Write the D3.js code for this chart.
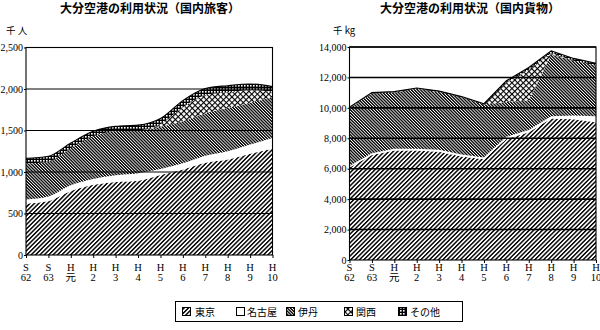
<!DOCTYPE html>
<html><head><meta charset="utf-8">
<script src="https://cdn.jsdelivr.net/npm/d3@7"></script>
<style>body{margin:0;background:#fff}svg{display:block}</style>
</head><body><svg id="c" width="600" height="330"></svg>
<script>
// ---------- data ----------
const categories = ["S62","S63","H元","H2","H3","H4","H5","H6","H7","H8","H9","H10"];
const catLine1 = ["S","S","H","H","H","H","H","H","H","H","H","H"];
const catLine2 = ["62","63","元","2","3","4","5","6","7","8","9","10"];
const seriesKeys = ["tokyo","nagoya","itami","kansai","other"];
const seriesNames = ["東京","名古屋","伊丹","関西","その他"];

// 国内旅客 (千人)
const paxTokyo  = [620, 650, 770, 845, 880, 895, 965, 1030, 1110, 1150, 1220, 1280];
const paxNagoya = [50, 55, 70, 70, 80, 90, 70, 75, 85, 100, 110, 130];
const paxItami  = [435, 420, 445, 515, 530, 515, 510, 505, 510, 520, 505, 495];
const paxKansai = [0, 0, 0, 0, 0, 0, 30, 170, 220, 190, 150, 60];
const paxOther  = [60, 65, 65, 60, 60, 65, 70, 80, 80, 80, 75, 65];
const paxTicks = [0, 500, 1000, 1500, 2000, 2500];
const paxTickLabels = ["0", "500", "1,000", "1,500", "2,000", "2,500"];

// 国内貨物 (千kg)
const cargoTokyo  = [6080, 6900, 7200, 7200, 7120, 6810, 6620, 7950, 8400, 9300, 9250, 9050];
const cargoNagoya = [100, 120, 120, 120, 120, 120, 120, 150, 150, 150, 250, 400];
const cargoItami  = [3820, 3930, 3695, 3930, 3810, 3760, 3480, 2280, 1950, 4050, 3600, 3330];
const cargoKansai = [0, 0, 0, 0, 0, 0, 0, 1300, 2000, 100, 0, 0];
const cargoOther  = [50, 50, 50, 50, 50, 50, 50, 100, 150, 150, 150, 150];
const cargoTicks = [0, 2000, 4000, 6000, 8000, 10000, 12000, 14000];
const cargoTickLabels = ["0", "2,000", "4,000", "6,000", "8,000", "10,000", "12,000", "14,000"];

const titles = ["大分空港の利用状況（国内旅客）", "大分空港の利用状況（国内貨物）"];
const units = ["千 人", "千 kg"];

// ---------- drawing ----------
const svg = d3.select("#c");
const serif = "'Liberation Serif','DejaVu Serif','Noto Sans CJK JP',serif";
const gothic = "'Noto Sans CJK JP','Noto Sans',sans-serif";

const defs = svg.append("defs");
function linePattern(id, w, sw, rot) {
  const p = defs.append("pattern").attr("id", id).attr("patternUnits", "userSpaceOnUse")
    .attr("width", w).attr("height", w).attr("patternTransform", `rotate(${rot})`);
  p.append("rect").attr("width", w).attr("height", w).attr("fill", "#fff");
  p.append("rect").attr("width", sw).attr("height", w).attr("fill", "#000");
}
linePattern("pTokyo", 3.1, 1.45, 45);
linePattern("pItami", 2.2, 1.35, -45);
(function(){
  const p = defs.append("pattern").attr("id","pKansai").attr("patternUnits","userSpaceOnUse")
    .attr("width",4).attr("height",4).attr("patternTransform","rotate(45)");
  p.append("rect").attr("width",4).attr("height",4).attr("fill","#fff");
  p.append("rect").attr("width",1.1).attr("height",4).attr("fill","#000");
  p.append("rect").attr("width",4).attr("height",1.1).attr("fill","#000");
})();
(function(){
  const p = defs.append("pattern").attr("id","pOther").attr("patternUnits","userSpaceOnUse")
    .attr("width",3).attr("height",3);
  p.append("rect").attr("width",3).attr("height",3).attr("fill","#000");
  p.append("rect").attr("x",1).attr("y",1).attr("width",1.6).attr("height",1.6).attr("fill","#fff");
})();
const fills = {tokyo:"url(#pTokyo)", nagoya:"#fff", itami:"url(#pItami)", kansai:"url(#pKansai)", other:"url(#pOther)"};

function buildRows(t, n, i, k, o) {
  return categories.map((c, j) => ({cat: c, tokyo: t[j], nagoya: n[j], itami: i[j], kansai: k[j], other: o[j]}));
}

function panel(cfg) {
  const g = svg.append("g");
  const x = d3.scalePoint().domain(categories).range([cfg.x0, cfg.x1]);
  const y = d3.scaleLinear().domain([0, cfg.max]).range([cfg.y0, cfg.y1]);
  const stack = d3.stack().keys(seriesKeys)(cfg.rows);
  const area = d3.area().curve(cfg.curve)
    .x(d => x(d.data.cat)).y0(d => y(d[0])).y1(d => y(d[1]));
  g.selectAll("path.layer").data(stack).join("path").attr("class","layer")
    .attr("d", area).attr("fill", d => fills[d.key]).attr("stroke", "none");
  const top = d3.line().curve(cfg.curve).x(d => x(d.data.cat)).y(d => y(d[1]));
  g.append("path").attr("d", top(stack[stack.length-1])).attr("fill","none")
    .attr("stroke","#000").attr("stroke-width",1.1);
  g.selectAll("line.grid").data(cfg.ticks.filter(v => v > 0)).join("line")
    .attr("x1", cfg.x0).attr("x2", cfg.x1).attr("y1", d => y(d)).attr("y2", d => y(d))
    .attr("stroke", "#000").attr("stroke-width", cfg.gridW);
  g.append("rect").attr("x", cfg.x0).attr("y", y(cfg.max)).attr("width", cfg.x1 - cfg.x0)
    .attr("height", y(0) - y(cfg.max)).attr("fill","none").attr("stroke","#000").attr("stroke-width",1.1);
  const ya = d3.axisLeft(y).tickValues(cfg.ticks).tickSize(2).tickPadding(1)
    .tickFormat((d, i) => cfg.tickLabels[i]);
  const yg = g.append("g").attr("transform", `translate(${cfg.x0},0)`).call(ya);
  yg.select(".domain").remove();
  yg.selectAll("text").attr("font-family", serif).attr("font-size", 10).attr("fill","#000");
  const xa = d3.axisBottom(x).tickSize(3).tickFormat(() => "");
  const xg = g.append("g").attr("transform", `translate(0,${cfg.y0})`).call(xa);
  xg.select(".domain").remove();
  const lab = g.append("g").attr("font-family", serif).attr("font-size", 10.5).attr("text-anchor","middle");
  lab.selectAll("text.l1").data(categories).join("text").attr("class","l1")
    .attr("x", d => x(d)).attr("y", 270.5).text((d, i) => catLine1[i]);
  lab.selectAll("text.l2").data(categories).join("text").attr("class","l2")
    .attr("x", d => x(d)).attr("y", 281).text((d, i) => catLine2[i]);
  g.append("text").attr("x", cfg.tx).attr("y", 13).attr("text-anchor","middle")
    .attr("font-family", gothic).attr("font-weight","bold").attr("font-size", 12).text(cfg.title);
  g.append("text").attr("x", cfg.ux).attr("y", 34).attr("font-family", gothic)
    .attr("font-size", 9.5).text(cfg.unit);
}

panel({rows: buildRows(paxTokyo, paxNagoya, paxItami, paxKansai, paxOther),
  x0: 26, x1: 272.5, y0: 255, y1: 47.5, max: 2500, ticks: paxTicks, tickLabels: paxTickLabels,
  curve: d3.curveMonotoneX, gridW: 1, title: titles[0], tx: 150, unit: units[0], ux: 6});
panel({rows: buildRows(cargoTokyo, cargoNagoya, cargoItami, cargoKansai, cargoOther),
  x0: 349.5, x1: 596, y0: 260, y1: 47, max: 14000, ticks: cargoTicks, tickLabels: cargoTickLabels,
  curve: d3.curveLinear, gridW: 1.6, title: titles[1], tx: 470, unit: units[1], ux: 333});

const lg = svg.append("g");
lg.append("rect").attr("x", 175.5).attr("y", 301.5).attr("width", 287).attr("height", 20)
  .attr("fill","#fff").attr("stroke","#000").attr("stroke-width",1);
const legendIconX = [182, 236, 286, 344, 398];
const legendTextX = [195, 247, 298, 356, 410];
seriesKeys.forEach((k, i) => {
  lg.append("rect").attr("x", legendIconX[i] + 0.5).attr("y", 307.5).attr("width", 8).attr("height", 8)
    .attr("fill", fills[k]).attr("stroke","#000").attr("stroke-width", 1);
  lg.append("text").attr("x", legendTextX[i]).attr("y", 315.5).attr("font-family", gothic)
    .attr("font-size", 10).text(seriesNames[i]);
});
</script></body></html>
